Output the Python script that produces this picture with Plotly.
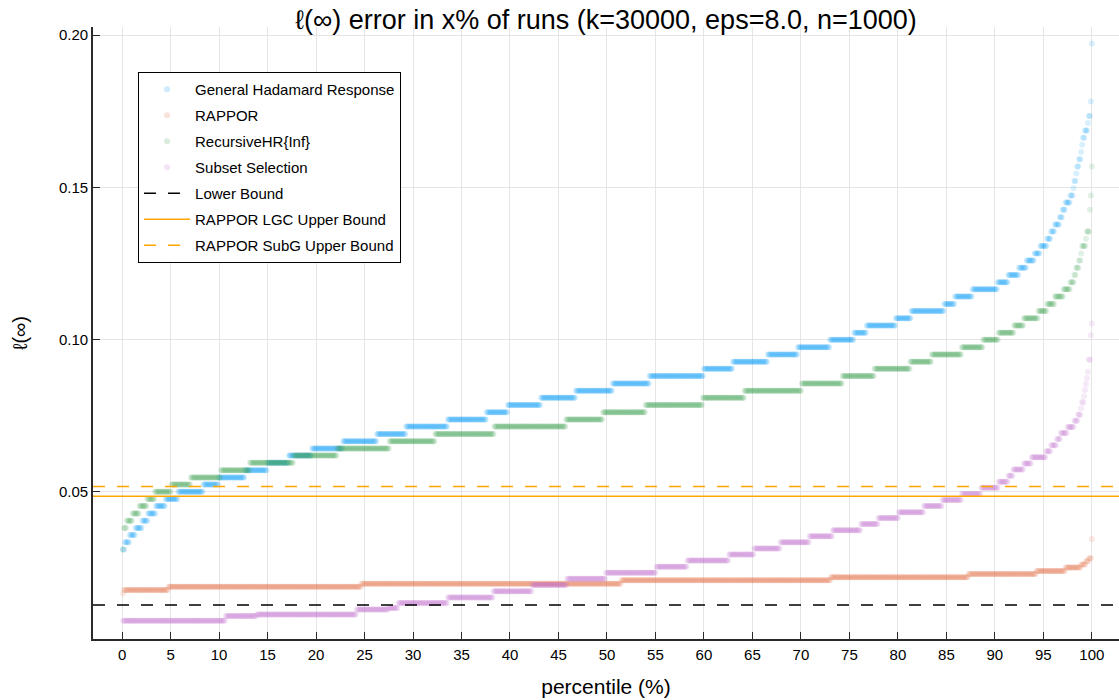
import numpy as np
import plotly.graph_objects as go

# ---------------- data ----------------
# Each series: sorted l_inf errors of 1000 runs, given as step levels and
# the number of runs that fall on each level.
ghr_levels = [0.0310, 0.0334, 0.0358, 0.0381, 0.0405, 0.0429, 0.0453, 0.0476,
              0.0500, 0.0524, 0.0547, 0.0571, 0.0595, 0.0619, 0.0642, 0.0666,
              0.0690, 0.0714, 0.0737, 0.0761, 0.0785, 0.0809, 0.0832, 0.0856,
              0.0880, 0.0904, 0.0927, 0.0951, 0.0975, 0.0999, 0.1022, 0.1046,
              0.1070, 0.1094, 0.1117, 0.1141, 0.1165, 0.1188, 0.1212, 0.1236,
              0.1260, 0.1283, 0.1307, 0.1331, 0.1355, 0.1378, 0.1402, 0.1426,
              0.1450, 0.1473, 0.1497, 0.1521, 0.1545, 0.1568, 0.1592, 0.1616,
              0.1640, 0.1663, 0.1687, 0.1711, 0.1734, 0.1782, 0.1972]
ghr_counts = [2, 5, 6, 7, 6, 8, 10, 13,
              26, 16, 27, 23, 22, 24, 32, 35, 30, 43,
              40, 22, 34, 36, 38, 38, 56, 30, 36, 31,
              33, 25, 13, 30, 16, 34, 11, 18, 26, 11,
              11, 8, 8, 6, 7, 4, 4, 5, 3, 3,
              5, 3, 1, 2, 1, 2, 2, 1, 1, 2,
              3, 1, 2, 1, 1]

rappor_levels = [0.0166, 0.0177, 0.0188, 0.0198, 0.0209, 0.0219, 0.0230,
                 0.0240, 0.0251, 0.0261, 0.0272, 0.0282, 0.0345]
rappor_counts = [1, 46, 199, 268, 216, 142, 70, 30, 16, 5, 3, 3, 1]

rhr_levels = [0.0310, 0.0381, 0.0405, 0.0429, 0.0453, 0.0476,
              0.0500, 0.0524, 0.0547, 0.0571, 0.0595, 0.0619, 0.0642, 0.0666,
              0.0690, 0.0714, 0.0737, 0.0761, 0.0785, 0.0809, 0.0832, 0.0856,
              0.0880, 0.0904, 0.0927, 0.0951, 0.0975, 0.0999, 0.1022, 0.1046,
              0.1070, 0.1094, 0.1117, 0.1141, 0.1165, 0.1188, 0.1212, 0.1236,
              0.1260, 0.1283, 0.1307, 0.1331, 0.1355, 0.1426, 0.1473, 0.1568]
rhr_counts = [1, 3, 6, 7, 8, 8,
              17, 20, 31, 30, 45, 45, 54, 47,
              61, 74, 38, 44, 59, 43, 59, 42,
              33, 37, 22, 31, 22, 16, 16, 10,
              15, 9, 8, 9, 7, 4, 2, 3,
              2, 1, 4, 1, 3, 1, 1, 1]

ss_levels = [0.0076, 0.0092, 0.0097, 0.0113, 0.0118, 0.0135, 0.0153, 0.0173,
             0.0194, 0.0214, 0.0234, 0.0254, 0.0274, 0.0294, 0.0314, 0.0334,
             0.0354, 0.0374, 0.0394, 0.0414, 0.0433, 0.0453, 0.0473, 0.0493,
             0.0513, 0.0533, 0.0553, 0.0573, 0.0593, 0.0613, 0.0633, 0.0653,
             0.0673, 0.0693, 0.0713, 0.0733, 0.0753, 0.0774, 0.0794, 0.0814,
             0.0834, 0.0854, 0.0874, 0.0894, 0.0934, 0.1014, 0.1053]
ss_counts = [106, 32, 103, 33, 10, 51, 47, 40,
             36, 40, 52, 32, 43, 26, 27, 30,
             24, 29, 18, 21, 26, 19, 20, 20,
             18, 10, 5, 11, 8, 15, 5, 6,
             4, 7, 7, 4, 3, 1, 2, 1,
             1, 1, 1, 1, 2, 1, 1]

lower_bound = 0.0128
rappor_lgc_upper = 0.0485
rappor_subg_upper = 0.0517

x_ticks = list(range(0, 101, 5))
y_ticks = [0.05, 0.10, 0.15, 0.20]
y_tick_text = ["0.05", "0.10", "0.15", "0.20"]

title = "ℓ(∞) error in x% of runs (k=30000, eps=8.0, n=1000)"

# ---------------- figure ----------------
X_RANGE = [-3.0, 102.8]
Y_RANGE = [0.00164, 0.20266]
FONT = "Liberation Sans, Arial, DejaVu Sans, sans-serif"

W, H = 1119, 700

fig = go.Figure()

scatter_series = [
    ("General Hadamard Response", ghr_levels, ghr_counts, "#009AFA"),
    ("RAPPOR", rappor_levels, rappor_counts, "#E36F47"),
    ("RecursiveHR{Inf}", rhr_levels, rhr_counts, "#3EA44E"),
    ("Subset Selection", ss_levels, ss_counts, "#C271D2"),
]
for name, lv, ct, col in scatter_series:
    y = np.repeat(np.array(lv), np.array(ct))
    x = np.arange(1, len(y) + 1) / len(y) * 100.0
    fig.add_trace(go.Scatter(
        x=x, y=y, mode="markers", name=name, legendgroup=name,
        marker=dict(color=col, size=6, opacity=0.15, line=dict(width=0)),
    ))

hlines = [
    ("Lower Bound", lower_bound, "black", "12px,12px"),
    ("RAPPOR LGC Upper Bound", rappor_lgc_upper, "#FFA500", "solid"),
    ("RAPPOR SubG Upper Bound", rappor_subg_upper, "#FFA500", "12px,12px"),
]
for name, val, col, dash in hlines:
    fig.add_trace(go.Scatter(
        x=X_RANGE, y=[val, val], mode="lines", name=name, legendgroup=name,
        line=dict(color=col, width=1.5, dash=dash),
    ))

axis_common = dict(
    showgrid=True, gridcolor="#e5e5e5", gridwidth=1,
    zeroline=False, showline=True, linecolor="#2a2a2a", linewidth=1.8,
    ticks="inside", ticklen=7, tickwidth=1.2, tickcolor="#2a2a2a",
    tickfont=dict(size=15, color="black", family=FONT),
)

fig.update_layout(
    width=W, height=H,
    margin=dict(l=93, r=0, t=27, b=61, autoexpand=False),
    paper_bgcolor="white", plot_bgcolor="white",
    font=dict(family=FONT, color="black"),
    title=dict(text=title, x=0.5, xref="paper", y=1 - 20 / H, yref="container",
               xanchor="center", yanchor="middle",
               font=dict(size=27, family=FONT, color="black")),
    xaxis=dict(range=X_RANGE, tickvals=x_ticks, ticklabelstandoff=1,
               automargin=False,
               title=dict(text="percentile (%)", font=dict(size=21), standoff=17),
               **axis_common),
    yaxis=dict(range=Y_RANGE, tickvals=y_ticks, ticktext=y_tick_text,
               ticklabelstandoff=0, automargin=False,
               title=dict(text="ℓ(∞)", font=dict(size=20), standoff=26),
               **axis_common),
    legend=dict(x=0.0439, y=0.9265, xanchor="left", yanchor="top",
                bgcolor="white", bordercolor="black", borderwidth=1,
                font=dict(size=15, family=FONT, color="black"),
                traceorder="grouped", tracegroupgap=3.5, itemwidth=46),
    showlegend=True,
)

# remove the browser's default page margin so the figure sits at (0, 0)
fig.write_html("out.html",
               config={"displayModeBar": False},
               post_script="document.body.style.margin='0px';"
                           "document.body.style.padding='0px';")
